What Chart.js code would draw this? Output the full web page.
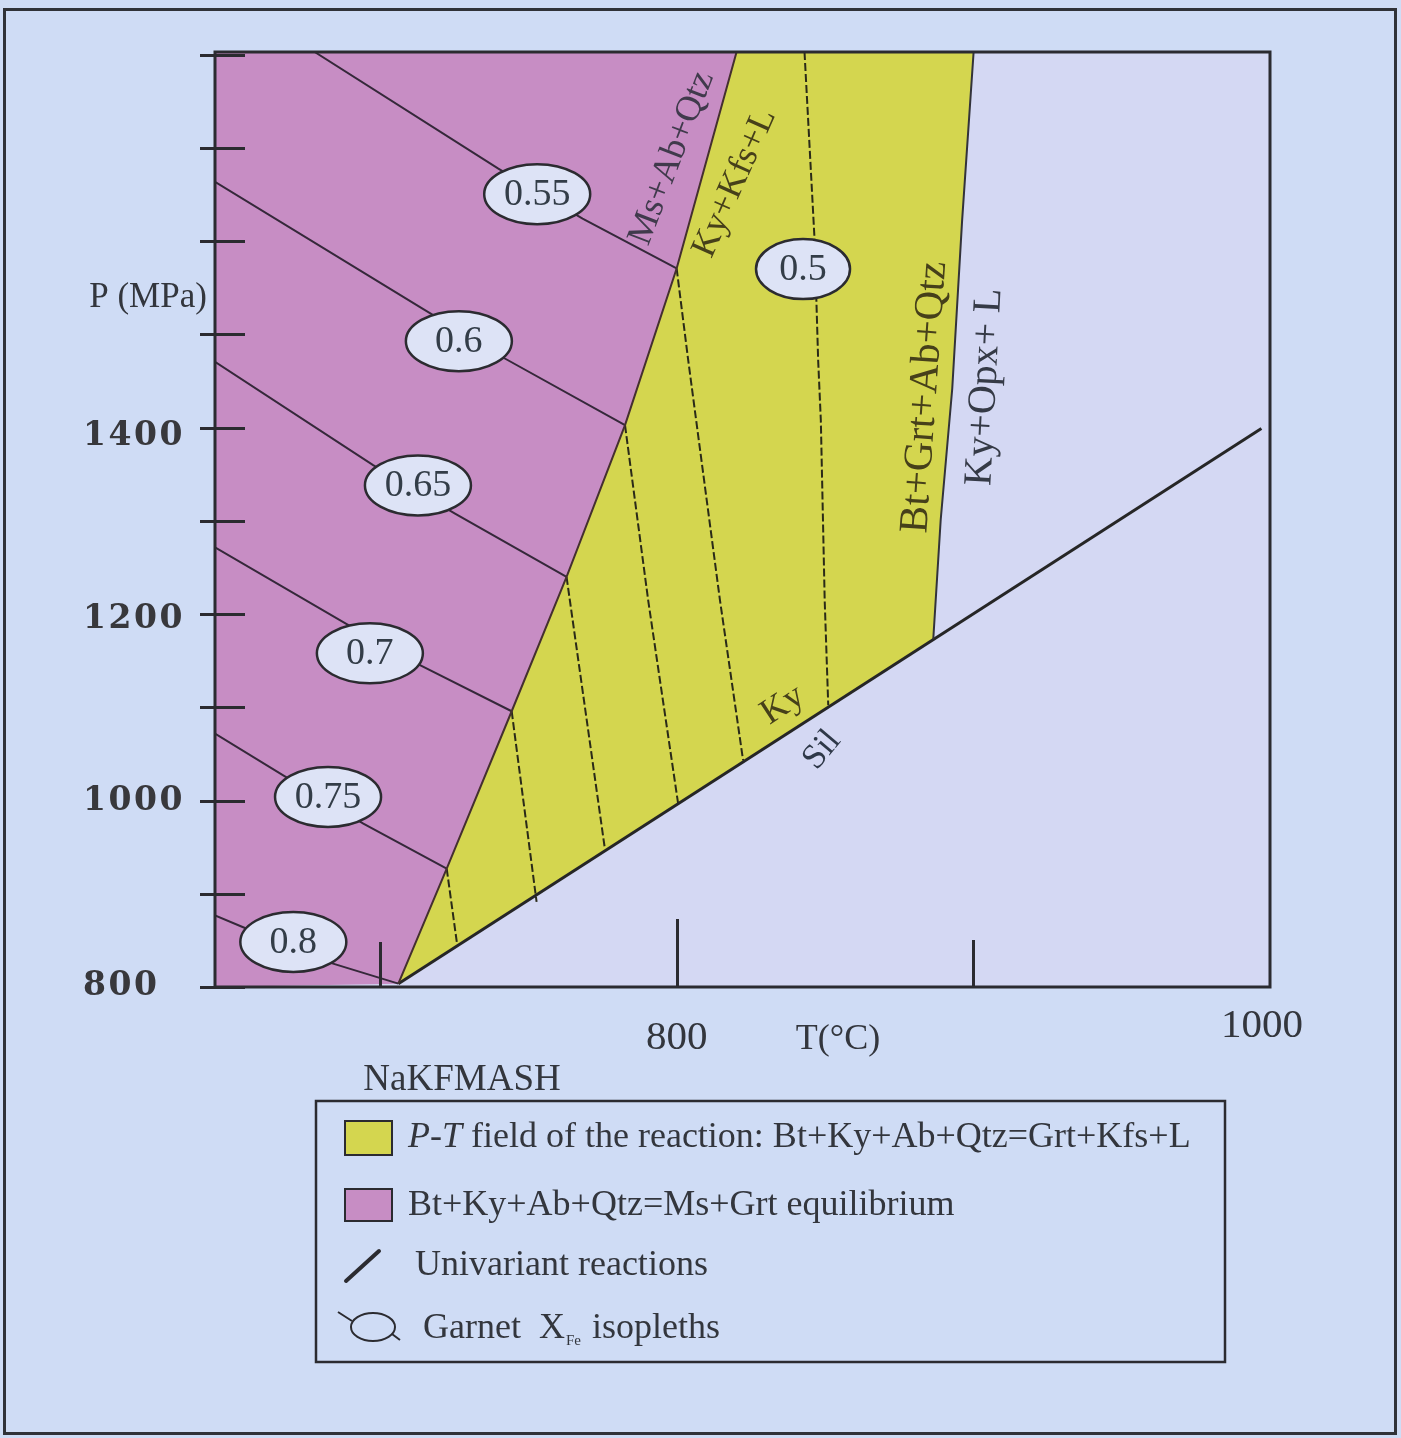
<!DOCTYPE html>
<html>
<head>
<meta charset="utf-8">
<script src="https://cdn.jsdelivr.net/npm/chart.js@4.4.1/dist/chart.umd.min.js"></script>
<style>
  html, body { margin: 0; padding: 0; background: #cfdcf5; }
  canvas { display: block; }
</style>
</head>
<body>
<canvas id="pt" width="1401" height="1438"></canvas>
<script>
// ---- Axes: temperature T (°C) and pressure P (MPa) ----
const tMin = 644.4, tMax = 1000;
const pMin = 800, pMax = 1803;
const pTickStep = 100;
const pTickLabels = [800, 1000, 1200, 1400];
const tTickMarks = [700, 800, 900];
const tTickLabels = [800, 1000];

// ---- Univariant reactions, points as [T, P] ----
// Bt+Ky+Ab+Qtz = Ms+Ab+Qtz / Ky+Kfs+L
const msAbQtzBoundary = [[706.2, 803.6], [722.5, 927], [744.4, 1095.8], [762.9, 1239.9],
                         [782.6, 1402.7], [800, 1570.8], [820.2, 1803]];
// Ky = Sil
const kySilBoundary = [[706.2, 803.6], [997.1, 1399.1]];
// Bt+Grt+Ab+Qtz = Ky+Opx+L
const opxBoundary = [[900.1, 1803], [896.2, 1621], [892.9, 1442], [889.0, 1301], [886.5, 1173]];

// ---- Garnet X(Fe) isopleths ----
// solid, inside the Ms-bearing field
const solidIsoValues = ['0.55', '0.6', '0.65', '0.7', '0.75', '0.8'];
const solidIsopleths = [
  [[678.0, 1803], [739.9, 1677.8], [768.3, 1624.2], [800, 1570.8]],
  [[644.4, 1663.7], [714.2, 1527.9], [742.1, 1474.2], [782.6, 1402.7]],
  [[644.4, 1470.6], [697.7, 1359.8], [725.3, 1307.9], [762.9, 1239.9]],
  [[644.4, 1271.5], [688.8, 1189.2], [713.5, 1145.2], [744.4, 1095.8]],
  [[644.4, 1071.9], [667.4, 1027.1], [694.4, 975.3], [722.5, 927]],
  [[644.4, 876.9], [654.5, 863.3], [684.2, 825.1], [706.2, 803.6]]
];
// dashed, inside the melting field
const dashedIsoValues = ['0.5', '0.55', '0.6', '0.65', '0.7', '0.75'];
const dashedIsopleths = [
  [[843.1, 1803], [846.5, 1601.2], [847.1, 1536.8], [847.7, 1472.4], [848.6, 1408], [849.9, 1215], [851.1, 1102.4]],
  [[800, 1570.8], [803.9, 1472.4], [814.6, 1215], [822.4, 1043.2]],
  [[782.6, 1402.7], [790.4, 1215], [800.5, 996.8]],
  [[762.9, 1239.9], [775.8, 948.5]],
  [[744.4, 1095.8], [752.8, 891.2]],
  [[722.5, 927], [725.9, 848.3]]
];
// isopleth tags and where they sit [T, P]
const isoTags = ['0.5', '0.55', '0.6', '0.65', '0.7', '0.75', '0.8'];
const isoTagAt = [[842.6, 1570.1], [753.0, 1650.5], [726.6, 1492.8], [712.8, 1338.1],
                  [696.6, 1158.0], [682.5, 1003.9], [670.8, 848.3]];

// ---- Field / reaction names ----
const fieldNames = ['Ms+Ab+Qtz', 'Ky+Kfs+L', 'Bt+Grt+Ab+Qtz', 'Ky+Opx+ L', 'Ky', 'Sil'];
const fieldNameAt = [[798.4, 1689.2], [819.6, 1662.4], [883.7, 1432.7], [903.9, 1443.5], [835.8, 1102.4], [849.0, 1054.1]];

// ---- Legend entries ----
const legendEntries = ['P-T field of the reaction: Bt+Ky+Ab+Qtz=Grt+Kfs+L',
                       'Bt+Ky+Ab+Qtz=Ms+Grt equilibrium',
                       'Univariant reactions',
                       'Garnet  X_Fe isopleths'];

// ---- Styling ----
const INK = '#2b2b30';
const PAGE = '#cfdcf5';
const PLOT = '#d4d8f3';
const PINK = '#c78dc4';
const YELLOW = '#d4d64f';
const TEXT = '#33363d';
const SERIF = '"Liberation Serif", "Times New Roman", serif';

const toXY = pts => pts.map(([x, y]) => ({ x, y }));

// Field polygons built from the reaction curves
const pinkField = [[tMin, pMin], ...msAbQtzBoundary, [tMin, pMax]];
const yellowField = [...msAbQtzBoundary, ...opxBoundary, msAbQtzBoundary[0]];

const datasets = [];
function addLine(pts, opts) {
  datasets.push(Object.assign({
    data: toXY(pts), showLine: true, pointRadius: 0, borderColor: INK,
    borderWidth: 2, fill: false, tension: 0, order: 1
  }, opts));
}
// filled fields (drawn underneath)
addLine(pinkField, { fill: 'shape', backgroundColor: PINK, borderWidth: 0, order: 10 });
addLine(yellowField, { fill: 'shape', backgroundColor: YELLOW, borderWidth: 0, order: 10 });
// isopleths
solidIsopleths.forEach(l => addLine(l, { borderColor: '#35283a', borderWidth: 2, order: 3 }));
dashedIsopleths.forEach(l => addLine(l, { borderColor: '#2a2a18', borderWidth: 2, borderDash: [8, 3], order: 3 }));
// reaction curves
addLine(msAbQtzBoundary, { borderColor: '#45302f', borderWidth: 2, order: 2 });
addLine(opxBoundary, { borderColor: '#33333a', borderWidth: 2, order: 2 });
addLine(kySilBoundary, { borderColor: '#262626', borderWidth: 3, order: 2 });

function text(ctx, s, x, y, font, color, angleDeg, align, spacing) {
  ctx.save();
  ctx.translate(x, y);
  if (angleDeg) ctx.rotate(angleDeg * Math.PI / 180);
  ctx.font = font;
  if (spacing) ctx.letterSpacing = spacing;
  ctx.fillStyle = color;
  ctx.textAlign = align || 'center';
  ctx.textBaseline = 'middle';
  ctx.fillText(s, 0, 0);
  ctx.restore();
}

const backdrop = {
  id: 'backdrop',
  beforeDraw(chart) {
    const { ctx, chartArea: a } = chart;
    ctx.save();
    ctx.fillStyle = PAGE;
    ctx.fillRect(0, 0, chart.width, chart.height);
    ctx.strokeStyle = '#303238';
    ctx.lineWidth = 3;
    ctx.strokeRect(4.5, 9.5, 1391, 1424);
    ctx.fillStyle = PLOT;
    ctx.fillRect(a.left, a.top, a.right - a.left, a.bottom - a.top);
    ctx.restore();
  }
};

const overlay = {
  id: 'overlay',
  afterDraw(chart) {
    const { ctx, chartArea: a, scales: { x, y } } = chart;
    ctx.save();
    // plot frame
    ctx.strokeStyle = INK;
    ctx.lineWidth = 3;
    ctx.strokeRect(a.left, a.top, a.right - a.left, a.bottom - a.top);
    // pressure ticks, crossing the axis line
    ctx.beginPath();
    for (let p = pMin; p <= pMax; p += pTickStep) {
      const py = Math.round(y.getPixelForValue(p)) + 0.5;
      ctx.moveTo(a.left - 15, py); ctx.lineTo(a.left + 30, py);
    }
    ctx.stroke();
    // pressure labels, left-aligned in the margin
    const pLabelDrop = { 800: -1, 1000: 1, 1200: 5, 1400: 9 };
    pTickLabels.forEach(p => {
      text(ctx, String(p), 83, y.getPixelForValue(p) + pLabelDrop[p],
           'bold 33px "DejaVu Serif", serif', '#38383c', 0, 'left', '2.5px');
    });
    // temperature ticks, rising from the base line
    const tickLen = { 700: 45, 800: 68, 900: 47 };
    ctx.beginPath();
    tTickMarks.forEach(t => {
      const px = Math.round(x.getPixelForValue(t)) + 0.5;
      ctx.moveTo(px, a.bottom); ctx.lineTo(px, a.bottom - tickLen[t]);
    });
    ctx.stroke();

    // isopleth tags
    isoTags.forEach((s, i) => {
      const cx = x.getPixelForValue(isoTagAt[i][0]);
      const cy = y.getPixelForValue(isoTagAt[i][1]);
      const rx = s === '0.5' ? 47 : 53, ry = 30;
      ctx.beginPath();
      ctx.ellipse(cx, cy, rx, ry, 0, 0, Math.PI * 2);
      ctx.fillStyle = '#dde3f6';
      ctx.fill();
      ctx.lineWidth = 2.5;
      ctx.strokeStyle = INK;
      ctx.stroke();
      text(ctx, s, cx, cy + 1, '38px ' + SERIF, '#333d48');
    });

    // field names
    const nameStyle = [
      { a: -69, size: 36, c: '#403a4c' },
      { a: -66, size: 36, c: '#46401a' },
      { a: -86, size: 41, c: '#46401a' },
      { a: -87, size: 40, c: '#353a46' },
      { a: -33, size: 36, c: '#46401a' },
      { a: -50, size: 35, c: '#2e3848' }
    ];
    fieldNames.forEach((s, i) => {
      const st = nameStyle[i];
      text(ctx, s, x.getPixelForValue(fieldNameAt[i][0]), y.getPixelForValue(fieldNameAt[i][1]),
           st.size + 'px ' + SERIF, st.c, st.a);
    });

    // axis titles and temperature labels
    text(ctx, 'P (MPa)', 148, 298, '35px ' + SERIF, TEXT);
    const tLabelDrop = { 800: 51, 1000: 39 };
    const tLabelShift = { 800: 0, 1000: -8 };
    tTickLabels.forEach(t => {
      text(ctx, String(t), x.getPixelForValue(t) + tLabelShift[t], a.bottom + tLabelDrop[t],
           '41px ' + SERIF, TEXT);
    });
    text(ctx, 'T(°C)', 838, 1040, '36px ' + SERIF, TEXT);
    text(ctx, 'NaKFMASH', 462, 1080, '37px ' + SERIF, TEXT);

    drawLegend(ctx);
    ctx.restore();
  }
};

function drawLegend(ctx) {
  ctx.save();
  ctx.strokeStyle = INK;
  ctx.lineWidth = 2.5;
  ctx.strokeRect(316, 1101, 909, 261);

  // row 1: melting field swatch
  ctx.fillStyle = YELLOW;
  ctx.fillRect(345, 1121, 47, 34);
  ctx.lineWidth = 2;
  ctx.strokeRect(345, 1121, 47, 34);
  const ptPart = legendEntries[0].slice(0, 3), restPart = legendEntries[0].slice(3);
  ctx.font = 'italic 36px ' + SERIF;
  const w1 = ctx.measureText(ptPart).width;
  text(ctx, ptPart, 408, 1138, 'italic 36px ' + SERIF, TEXT, 0, 'left');
  text(ctx, restPart, 408 + w1, 1138, '36px ' + SERIF, TEXT, 0, 'left');

  // row 2: Ms-bearing field swatch
  ctx.fillStyle = PINK;
  ctx.fillRect(345, 1189, 47, 32);
  ctx.strokeRect(345, 1189, 47, 32);
  text(ctx, legendEntries[1], 408, 1206, '36px ' + SERIF, TEXT, 0, 'left');

  // row 3: univariant line
  ctx.beginPath();
  ctx.lineWidth = 4;
  ctx.lineCap = 'round';
  ctx.moveTo(346, 1281); ctx.lineTo(379, 1251);
  ctx.stroke();
  text(ctx, legendEntries[2], 415, 1266, '36px ' + SERIF, TEXT, 0, 'left');

  // row 4: isopleth tag symbol
  ctx.lineWidth = 2;
  ctx.lineCap = 'butt';
  ctx.beginPath();
  ctx.ellipse(373, 1327, 22, 14, 0, 0, Math.PI * 2);
  ctx.stroke();
  ctx.beginPath();
  ctx.moveTo(338, 1312); ctx.lineTo(352, 1321);
  ctx.moveTo(392, 1334); ctx.lineTo(400, 1340);
  ctx.stroke();
  const [head, tail] = legendEntries[3].split('_');
  const sub = tail.slice(0, 2), after = tail.slice(2);
  ctx.font = '36px ' + SERIF;
  let cx = 423;
  text(ctx, head, cx, 1329, '36px ' + SERIF, TEXT, 0, 'left');
  cx += ctx.measureText(head).width + 1;
  text(ctx, sub, cx, 1341, '15px ' + SERIF, TEXT, 0, 'left');
  ctx.font = '15px ' + SERIF;
  cx += ctx.measureText(sub).width + 2;
  text(ctx, after, cx, 1329, '36px ' + SERIF, TEXT, 0, 'left');
  ctx.restore();
}

new Chart(document.getElementById('pt'), {
  type: 'scatter',
  data: { datasets },
  options: {
    responsive: false,
    animation: false,
    devicePixelRatio: 1,
    layout: { padding: { left: 83, top: 52, right: 131, bottom: 451 } },
    plugins: { legend: { display: false }, tooltip: { enabled: false } },
    scales: {
      x: {
        type: 'linear', min: tMin, max: tMax, position: 'bottom',
        ticks: { display: false, includeBounds: false },
        grid: { display: false, drawTicks: false },
        border: { display: false },
        afterFit: s => { s.height = 0; }
      },
      y: {
        type: 'linear', min: pMin, max: pMax, position: 'left',
        ticks: { display: false, stepSize: pTickStep, includeBounds: false },
        grid: { display: false, drawTicks: false },
        border: { display: false },
        afterFit: s => { s.width = 132; }
      }
    }
  },
  plugins: [backdrop, overlay]
});
</script>
</body>
</html>
